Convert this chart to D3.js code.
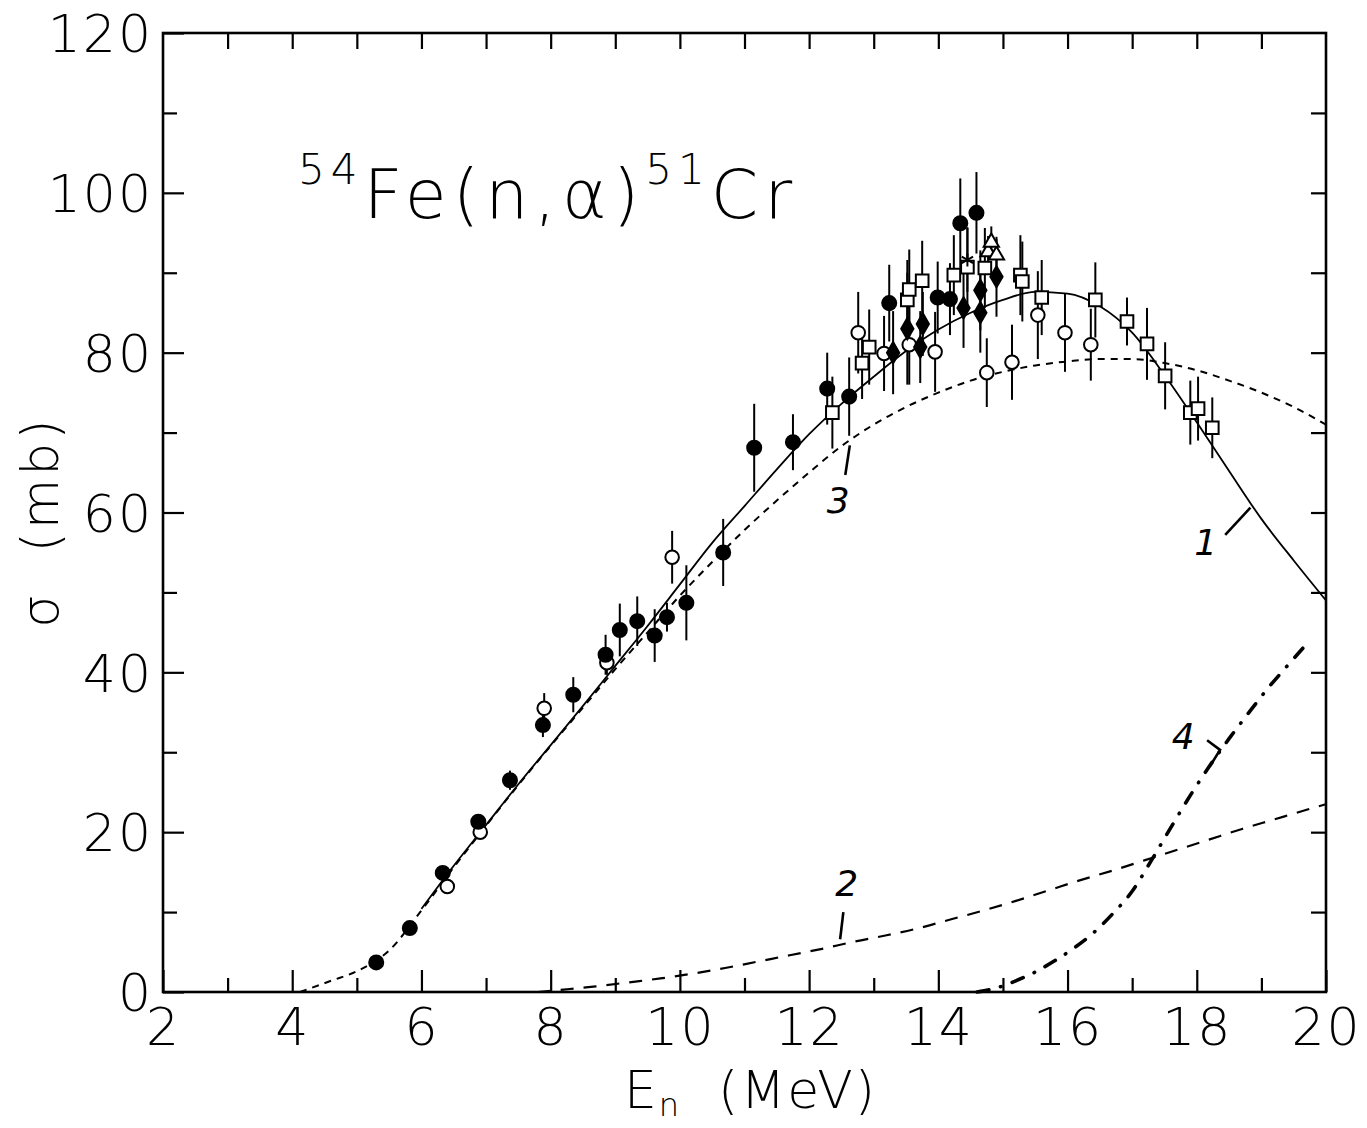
<html>
<head>
<meta charset="utf-8">
<title>54Fe(n,alpha)51Cr</title>
<script src="https://d3js.org/d3.v7.min.js"></script>
<style>
  body { margin: 0; background: #fff; }
  text { font-family: "DejaVu Sans", "Liberation Sans", sans-serif; fill: #000; }
</style>
</head>
<body>
<div id="chart"></div>
<script>
// ---- data (E in MeV, sigma in mb) ----
var curve1E = [6.0, 6.5, 7.0, 7.5, 8.0, 8.5, 9.0, 9.5, 10.0, 10.5, 11.0, 11.5, 12.0, 12.5, 13.0, 13.5, 14.0, 14.5, 15.0, 15.5, 16.0, 16.5, 17.0, 17.5, 18.0, 18.5, 19.0, 19.5, 20.0];
var curve1S = [10.4, 15.8, 20.9, 26.0, 30.9, 35.8, 40.8, 45.8, 51.0, 56.2, 60.8, 65.4, 69.8, 73.6, 77.0, 80.2, 82.9, 85.0, 86.6, 87.6, 87.4, 85.8, 82.5, 77.2, 71.3, 65.2, 59.2, 54.0, 49.0];

var curve3E = [4.12, 4.6, 5.0, 5.5, 6.0, 6.5, 7.0, 7.5, 8.0, 8.5, 9.0, 9.5, 10.0, 10.5, 11.0, 11.5, 12.0, 12.5, 13.0, 13.5, 14.0, 14.5, 15.0, 15.5, 16.0, 16.5, 17.0, 17.5, 18.0, 18.5, 19.0, 19.5, 20.0];
var curve3S = [0.0, 1.4, 2.6, 5.2, 10.2, 15.6, 20.8, 25.9, 30.8, 35.6, 40.4, 45.0, 49.6, 53.8, 57.8, 61.5, 65.0, 68.3, 71.0, 73.2, 75.0, 76.5, 77.6, 78.4, 78.9, 79.2, 79.2, 78.7, 77.8, 76.5, 75.0, 73.2, 71.0];

var curve2E = [7.8, 8.2, 8.7, 9.2, 9.7, 10.2, 10.7, 11.2, 11.7, 12.2, 12.7, 13.2, 13.7, 14.2, 14.7, 15.2, 15.7, 16.2, 16.7, 17.2, 17.7, 18.2, 18.7, 19.2, 19.7, 20.0];
var curve2S = [0.0, 0.3, 0.7, 1.2, 1.7, 2.3, 3.0, 3.8, 4.6, 5.4, 6.3, 7.1, 8.0, 9.1, 10.2, 11.4, 12.7, 14.0, 15.2, 16.5, 17.8, 19.1, 20.4, 21.6, 22.8, 23.5];

var curve4E = [14.6, 14.9, 15.2, 15.5, 15.8, 16.1, 16.4, 16.7, 17.0, 17.3, 17.6, 17.9, 18.2, 18.5, 18.8, 19.1, 19.4, 19.75];
var curve4S = [0.0, 0.5, 1.4, 2.5, 3.9, 5.5, 7.4, 9.8, 12.6, 16.5, 20.6, 24.6, 28.3, 31.7, 34.9, 38.0, 40.8, 44.0];

// filled circles
var fcE = [5.3, 5.82, 6.33, 6.88, 7.37, 7.88, 8.35, 8.85, 9.07, 9.34, 9.61, 9.8, 10.1, 10.67, 11.15, 11.75, 12.28, 12.62, 13.24, 13.99, 14.18, 14.34, 14.59];
var fcS = [3.7, 8.0, 14.9, 21.3, 26.5, 33.4, 37.2, 42.2, 45.3, 46.4, 44.6, 46.9, 48.7, 55.0, 68.1, 68.8, 75.5, 74.5, 86.2, 86.9, 86.7, 96.2, 97.5];
var fcErr = [0.5, 0.5, 0.8, 0.8, 1.2, 1.5, 2.2, 2.5, 3.3, 3.1, 3.3, 1.8, 4.7, 4.2, 5.5, 3.5, 4.5, 4.9, 4.8, 4.5, 4.5, 5.6, 5.1];

// open circles
var ocE = [6.4, 6.91, 7.9, 8.87, 9.88, 12.76, 13.16, 13.55, 13.95, 14.75, 15.14, 15.54, 15.96, 16.36];
var ocS = [13.2, 20.0, 35.5, 41.2, 54.4, 82.5, 79.9, 81.0, 80.1, 77.5, 78.8, 84.7, 82.5, 81.0];
var ocErr = [0.6, 0.8, 1.9, 1.5, 3.3, 5.1, 4.7, 5.0, 5.0, 4.3, 4.7, 5.5, 4.9, 4.5];

// open squares
var sqE = [12.36, 12.82, 12.93, 13.52, 13.55, 13.75, 14.24, 14.45, 14.72, 15.27, 15.3, 15.6, 16.43, 16.92, 17.23, 17.51, 17.9, 18.02, 18.24];
var sqS = [72.5, 78.7, 80.7, 86.6, 87.9, 89.0, 89.7, 90.7, 90.6, 89.7, 88.9, 86.9, 86.6, 83.9, 81.1, 77.1, 72.5, 73.0, 70.6];
var sqErr = [4.5, 4.5, 4.7, 5.0, 5.0, 5.0, 5.0, 5.0, 5.0, 5.0, 5.0, 4.7, 4.7, 3.0, 4.5, 4.2, 4.0, 4.0, 3.8];

// filled diamonds
var fdE = [13.3, 13.52, 13.72, 13.76, 14.39, 14.65, 14.65, 14.9];
var fdS = [80.0, 83.0, 80.7, 83.6, 85.6, 87.8, 85.0, 89.5];
var fdErr = [5.2, 7.0, 4.5, 4.0, 5.0, 5.0, 5.0, 5.0];

// open triangles and stars
var trE = [14.77, 14.9, 14.82];
var trS = [92.6, 92.2, 93.8];
var trErr = [2.0, 2.0, 2.0];
var stE = [14.45];
var stS = [91.6];
var stErr = [4.0];

// curve labels
var curveLabels = ["1", "2", "3", "4"];
var labelE = [18.14, 12.58, 12.45, 17.79];
var labelS = [54.7, 12.0, 60.0, 30.4];

var xTicks = [2, 4, 6, 8, 10, 12, 14, 16, 18, 20];
var yTicks = [0, 20, 40, 60, 80, 100, 120];

// ---- layout ----
var width = 1367, height = 1128;
var pLeft = 163, pRight = 1326, pTop = 33, pBottom = 992;

var svg = d3.select("#chart").append("svg")
  .attr("width", width)
  .attr("height", height);

var x = d3.scaleLinear().domain([2, 20]).range([pLeft, pRight]);
var y = d3.scaleLinear().domain([0, 120]).range([pBottom, pTop]);

function zip(a, b) { return a.map(function(v, i) { return [v, b[i]]; }); }
function zip3(a, b, c) { return a.map(function(v, i) { return [v, b[i], c[i]]; }); }

// ---- axes (ticks pointing in) ----
var ax = svg.append("g").attr("class", "axes");

// bottom: major and minor
ax.append("g").attr("transform", "translate(0," + pBottom + ")")
  .call(d3.axisBottom(x).tickValues(d3.range(3, 20, 2)).tickSize(-14).tickFormat(""));
ax.append("g").attr("transform", "translate(0," + pBottom + ")")
  .call(d3.axisBottom(x).tickValues(xTicks).tickSize(-22).tickPadding(16).tickFormat(d3.format("d")))
  .call(function(g) { g.selectAll("text").attr("font-size", 52).attr("font-weight", 200).attr("letter-spacing", 2); });
// top
ax.append("g").attr("transform", "translate(0," + pTop + ")")
  .call(d3.axisTop(x).tickValues(d3.range(3, 20, 1)).tickSize(-16).tickFormat(""));
// left
ax.append("g").attr("transform", "translate(" + pLeft + ",0)")
  .call(d3.axisLeft(y).tickValues(d3.range(10, 120, 20)).tickSize(-14).tickFormat(""));
ax.append("g").attr("transform", "translate(" + pLeft + ",0)")
  .call(d3.axisLeft(y).tickValues(yTicks).tickSize(-21).tickPadding(10).tickFormat(d3.format("d")))
  .call(function(g) { g.selectAll("text").attr("font-size", 52).attr("font-weight", 200).attr("letter-spacing", 2).attr("dy", "0.36em"); });
// right
ax.append("g").attr("transform", "translate(" + pRight + ",0)")
  .call(d3.axisRight(y).tickValues(d3.range(10, 120, 10)).tickSize(-15).tickFormat(""));

ax.selectAll(".domain").remove();
ax.selectAll("line").attr("stroke", "#000").attr("stroke-width", 2.2);

// frame
svg.append("rect")
  .attr("x", pLeft).attr("y", pTop)
  .attr("width", pRight - pLeft).attr("height", pBottom - pTop)
  .attr("fill", "none").attr("stroke", "#000").attr("stroke-width", 2.6);

// ---- curves ----
var line = d3.line()
  .x(function(d) { return x(d[0]); })
  .y(function(d) { return y(d[1]); })
  .curve(d3.curveMonotoneX);

var curves = svg.append("g").attr("fill", "none").attr("stroke", "#000");
curves.append("path").attr("d", line(zip(curve1E, curve1S))).attr("stroke-width", 1.8);
curves.append("path").attr("d", line(zip(curve3E, curve3S))).attr("stroke-width", 2)
  .attr("stroke-dasharray", "7,6");
curves.append("path").attr("d", line(zip(curve2E, curve2S))).attr("stroke-width", 2.2)
  .attr("stroke-dasharray", "13,10");
curves.append("path").attr("d", line(zip(curve4E, curve4S))).attr("stroke-width", 3.6)
  .attr("stroke-linecap", "round")
  .attr("stroke-dasharray", "12,12,0.5,12");

// ---- data points with error bars ----
var pts = svg.append("g");

function errBars(data) {
  pts.append("g").selectAll("line").data(data).enter().append("line")
    .attr("x1", function(d) { return x(d[0]); })
    .attr("x2", function(d) { return x(d[0]); })
    .attr("y1", function(d) { return y(d[1] - d[2]); })
    .attr("y2", function(d) { return y(d[1] + d[2]); })
    .attr("stroke", "#000").attr("stroke-width", 2);
}

function symbols(data, type, size, filled) {
  pts.append("g").selectAll("path").data(data).enter().append("path")
    .attr("d", d3.symbol().type(type).size(size))
    .attr("transform", function(d) { return "translate(" + x(d[0]) + "," + y(d[1]) + ")"; })
    .attr("fill", filled ? "#000" : "#fff")
    .attr("stroke", "#000").attr("stroke-width", 2);
}

var fc = zip3(fcE, fcS, fcErr), oc = zip3(ocE, ocS, ocErr), sq = zip3(sqE, sqS, sqErr),
    fd = zip3(fdE, fdS, fdErr), tr = zip3(trE, trS, trErr), st = zip3(stE, stS, stErr);

[fc, oc, sq, fd, tr, st].forEach(errBars);
symbols(oc, d3.symbolCircle, 145, false);
symbols(sq, d3.symbolSquare, 160, false);
symbols(fc, d3.symbolCircle, 155, true);
symbols(fd, d3.symbolDiamond, 130, true);
symbols(tr, d3.symbolTriangle, 100, false);
symbols(st, d3.symbolAsterisk || d3.symbolCross, 120, false);

// ---- curve labels with leader marks ----
var ann = svg.append("g");
ann.selectAll("text").data(curveLabels).enter().append("text")
  .attr("x", function(d, i) { return x(labelE[i]); })
  .attr("y", function(d, i) { return y(labelS[i]); })
  .attr("text-anchor", "middle")
  .attr("font-family", "DejaVu Serif, serif")
  .attr("font-style", "italic")
  .attr("font-size", 36)
  .text(function(d) { return d; });

// leader strokes from label to its curve, in data units
var leaders = [
  [[18.44, 57.2], [18.83, 60.6]],
  [[12.53, 10.0], [12.48, 6.6]],
  [[12.56, 64.7], [12.63, 68.4]],
  [[18.16, 31.5], [18.36, 30.3], [18.2, 28.2]]
];
ann.selectAll("path").data(leaders).enter().append("path")
  .attr("d", d3.line().x(function(d) { return x(d[0]); }).y(function(d) { return y(d[1]); }))
  .attr("fill", "none").attr("stroke", "#000").attr("stroke-width", 2.6);

// ---- titles ----
svg.append("text")
  .attr("x", (pLeft + pRight) / 2 + 6).attr("y", 1108)
  .attr("text-anchor", "middle")
  .attr("font-size", 52).attr("font-weight", 200).attr("letter-spacing", 2)
  .call(function(t) {
    t.append("tspan").text("E");
    t.append("tspan").attr("font-size", 32).attr("dy", 8).text("n");
    t.append("tspan").attr("dy", -8).text("\u00a0\u00a0(MeV)");
  });

svg.append("text")
  .attr("transform", "translate(58,522) rotate(-90)")
  .attr("text-anchor", "middle")
  .attr("font-size", 52).attr("font-weight", 200).attr("letter-spacing", 3)
  .text("\u03c3\u00a0\u00a0(mb)");

svg.append("text")
  .attr("x", 298).attr("y", 218)
  .attr("font-size", 68).attr("font-weight", 200).attr("letter-spacing", 6)
  .call(function(t) {
    t.append("tspan").attr("font-size", 42).attr("dy", -34).text("54");
    t.append("tspan").attr("dy", 34).text("Fe(n,\u03b1)");
    t.append("tspan").attr("font-size", 42).attr("dy", -34).text("51");
    t.append("tspan").attr("dy", 34).text("Cr");
  });
</script>
</body>
</html>
